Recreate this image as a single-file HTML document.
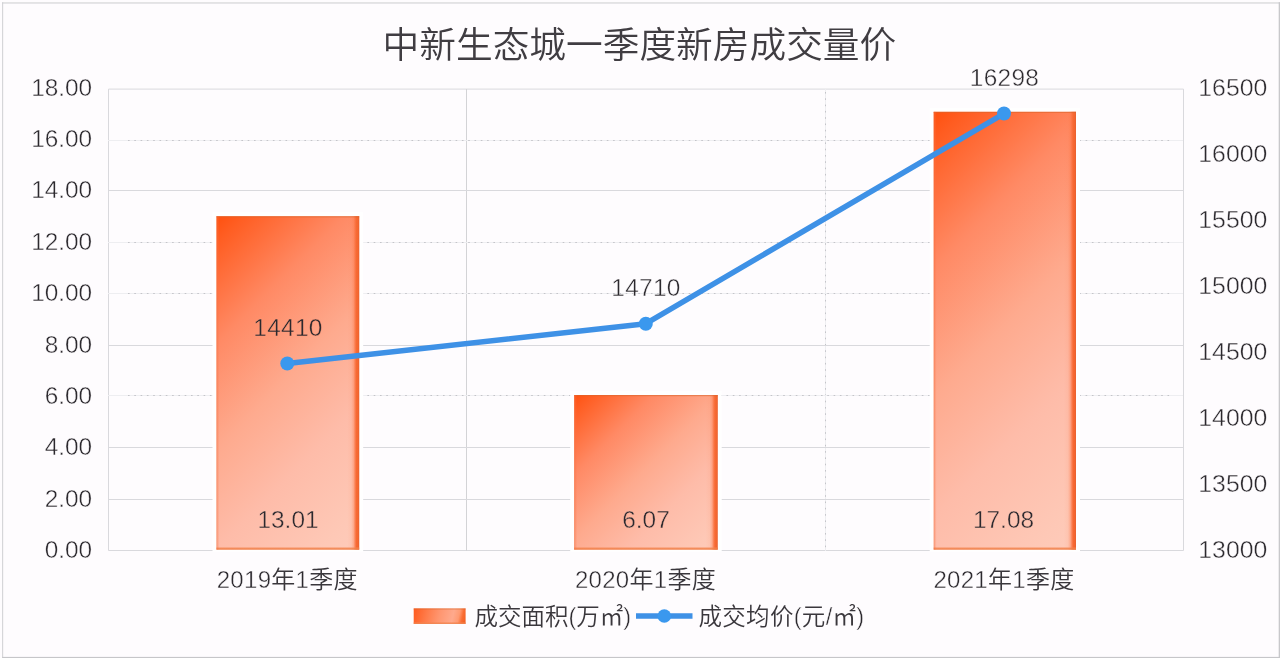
<!DOCTYPE html>
<html lang="zh-CN">
<head>
<meta charset="utf-8">
<title>中新生态城一季度新房成交量价</title>
<style>
html,body{margin:0;padding:0;background:#fefcfe;}
body{width:1280px;height:658px;overflow:hidden;position:relative;}
svg{position:absolute;left:0;top:0;display:block;}
text{font-family:"Liberation Sans","Noto Sans CJK SC",sans-serif;font-weight:300;fill:#2c292e;stroke:#fefcfe;stroke-width:0.42px;}
.c{stroke:none;font-weight:350;fill:#3a373c;}
.t{fill:#403d42;font-weight:350;stroke:none;}
</style>
</head>
<body>
<svg width="1280" height="658" viewBox="0 0 1280 658">
<defs>
<linearGradient id="g0" gradientUnits="userSpaceOnUse" x1="216.5" y1="216.2" x2="454.6" y2="454.2"><stop offset="0" stop-color="#ff500e"/><stop offset="0.05" stop-color="#ff5c20"/><stop offset="0.27" stop-color="#ff8a65"/><stop offset="0.49" stop-color="#feaa8e"/><stop offset="0.7" stop-color="#febca9"/><stop offset="0.92" stop-color="#fec8b6"/><stop offset="1" stop-color="#fecbba"/></linearGradient>
<linearGradient id="g1" gradientUnits="userSpaceOnUse" x1="574.2" y1="395.0" x2="723.2" y2="544.0"><stop offset="0" stop-color="#ff500e"/><stop offset="0.05" stop-color="#ff5c20"/><stop offset="0.27" stop-color="#ff8a65"/><stop offset="0.49" stop-color="#feaa8e"/><stop offset="0.7" stop-color="#febca9"/><stop offset="0.92" stop-color="#fec8b6"/><stop offset="1" stop-color="#fecbba"/></linearGradient>
<linearGradient id="g2" gradientUnits="userSpaceOnUse" x1="933.7" y1="111.8" x2="1223.8" y2="401.8"><stop offset="0" stop-color="#ff500e"/><stop offset="0.05" stop-color="#ff5c20"/><stop offset="0.27" stop-color="#ff8a65"/><stop offset="0.49" stop-color="#feaa8e"/><stop offset="0.7" stop-color="#febca9"/><stop offset="0.92" stop-color="#fec8b6"/><stop offset="1" stop-color="#fecbba"/></linearGradient>
<linearGradient id="er" x1="0" y1="0" x2="1" y2="0">
<stop offset="0" stop-color="#ff7a48" stop-opacity="0"/>
<stop offset="0.33" stop-color="#ff7a48" stop-opacity="0.08"/>
<stop offset="0.52" stop-color="#fd7644" stop-opacity="0.35"/>
<stop offset="0.66" stop-color="#fa6e3a" stop-opacity="0.8"/>
<stop offset="0.77" stop-color="#f76a34" stop-opacity="1"/>
<stop offset="0.92" stop-color="#f3652f"/>
<stop offset="1" stop-color="#e46030"/>
</linearGradient>
<linearGradient id="el" x1="0" y1="0" x2="1" y2="0">
<stop offset="0" stop-color="#ee6a38" stop-opacity="0.6"/>
<stop offset="0.4" stop-color="#f87040" stop-opacity="0.3"/>
<stop offset="1" stop-color="#ff7848" stop-opacity="0"/>
</linearGradient>
<linearGradient id="eb" x1="0" y1="0" x2="0" y2="1">
<stop offset="0" stop-color="#f58a58" stop-opacity="0"/>
<stop offset="0.6" stop-color="#f28048" stop-opacity="0.8"/>
<stop offset="1" stop-color="#ec7a42"/>
</linearGradient>
<linearGradient id="gl" gradientUnits="userSpaceOnUse" x1="413.7" y1="608.4" x2="465.6" y2="620">
<stop offset="0" stop-color="#ff5a1e"/>
<stop offset="0.25" stop-color="#ff7a48"/>
<stop offset="0.5" stop-color="#ff9670"/>
<stop offset="0.75" stop-color="#ffa98c"/>
<stop offset="0.86" stop-color="#ff9a72"/>
<stop offset="0.93" stop-color="#fa6c32"/>
<stop offset="1" stop-color="#f26024"/>
</linearGradient>
</defs>
<rect x="0" y="0" width="1280" height="658" fill="#fefcfe"/>
<!-- outer border -->
<rect x="2.2" y="2.2" width="1277.8" height="1.5" fill="#dcdcde"/>
<rect x="2.2" y="2.2" width="0.95" height="655.8" fill="#cdcdd0"/>
<rect x="1278.7" y="2.2" width="1.3" height="655.8" fill="#c8c8cb"/>
<rect x="2.2" y="656.9" width="1277.8" height="1.1" fill="#c6c6c9"/>
<!-- plot area -->
<g stroke="#d9d9dd" stroke-width="1" fill="none">
<path d="M108.5 89.1V550.5H1183.5V89.1Z"/>
<line x1="466.5" y1="89" x2="466.5" y2="551" stroke="#d3d3d6"/>
<line x1="825.5" y1="89" x2="825.5" y2="551" stroke="#eeeef1"/>
<line x1="825.5" y1="92" x2="825.5" y2="551" stroke="#c4c4c9" stroke-dasharray="1.6 4.7"/>
<line x1="108" y1="140.5" x2="1183" y2="140.5" stroke="#eeeef1"/>
<line x1="128" y1="140.5" x2="1170" y2="140.5" stroke="#c4c4c9" stroke-dasharray="1.6 4.7"/>
<line x1="108" y1="190.5" x2="1183" y2="190.5"/>
<line x1="108" y1="242.5" x2="1183" y2="242.5" stroke="#eeeef1"/>
<line x1="128" y1="242.5" x2="1170" y2="242.5" stroke="#c4c4c9" stroke-dasharray="1.6 4.7"/>
<line x1="108" y1="293.5" x2="1183" y2="293.5" stroke="#eeeef1"/>
<line x1="128" y1="293.5" x2="1170" y2="293.5" stroke="#c4c4c9" stroke-dasharray="1.6 4.7"/>
<line x1="108" y1="345.5" x2="1183" y2="345.5"/>
<line x1="108" y1="395.5" x2="1183" y2="395.5" stroke="#eeeef1"/>
<line x1="128" y1="395.5" x2="1170" y2="395.5" stroke="#c4c4c9" stroke-dasharray="1.6 4.7"/>
<line x1="108" y1="447.5" x2="1183" y2="447.5"/>
<line x1="108" y1="499.5" x2="1183" y2="499.5"/>
</g>
<!-- bars -->
<g>
<rect x="212.5" y="212.2" width="150.7" height="339.4" fill="#ffffff"/>
<rect x="216.5" y="216.2" width="142.7" height="333.4" fill="url(#g0)"/>
<rect x="347.2" y="216.2" width="12" height="333.4" fill="url(#er)"/>
<rect x="216.5" y="546.6" width="142.7" height="3" fill="url(#eb)"/>
<rect x="216.5" y="216.2" width="142.7" height="1.2" fill="#d8642c" fill-opacity="0.55"/>
<rect x="216.5" y="216.2" width="3" height="333.4" fill="url(#el)"/>
</g>
<g>
<rect x="570.2" y="391.0" width="151.5" height="160.6" fill="#ffffff"/>
<rect x="574.2" y="395.0" width="143.5" height="154.6" fill="url(#g1)"/>
<rect x="705.7" y="395.0" width="12" height="154.6" fill="url(#er)"/>
<rect x="574.2" y="546.6" width="143.5" height="3" fill="url(#eb)"/>
<rect x="574.2" y="395.0" width="143.5" height="1.2" fill="#d8642c" fill-opacity="0.55"/>
<rect x="574.2" y="395.0" width="3" height="154.6" fill="url(#el)"/>
</g>
<g>
<rect x="929.7" y="107.8" width="150.3" height="443.8" fill="#ffffff"/>
<rect x="933.7" y="111.8" width="142.3" height="437.8" fill="url(#g2)"/>
<rect x="1064.0" y="111.8" width="12" height="437.8" fill="url(#er)"/>
<rect x="933.7" y="546.6" width="142.3" height="3" fill="url(#eb)"/>
<rect x="933.7" y="111.8" width="142.3" height="1.2" fill="#d8642c" fill-opacity="0.55"/>
<rect x="933.7" y="111.8" width="3" height="437.8" fill="url(#el)"/>
</g>
<!-- line -->
<polyline points="287.3,363.5 645.8,323.7 1004,113.6" fill="none" stroke="#3e91e6" stroke-width="5.5" stroke-linejoin="round" stroke-linecap="round"/>
<circle cx="287.3" cy="363.5" r="7" fill="#3a98ee"/>
<circle cx="645.8" cy="323.7" r="7" fill="#3a98ee"/>
<circle cx="1004" cy="113.5" r="7" fill="#3a98ee"/>

<!-- title -->
<text class="t" x="639.4" y="58" font-size="36.7" text-anchor="middle">中新生态城一季度新房成交量价</text>

<!-- left axis -->
<g font-size="24.4" text-anchor="end">
<text x="92.2" y="95.7">18.00</text>
<text x="92.2" y="147.1">16.00</text>
<text x="92.2" y="198.4">14.00</text>
<text x="92.2" y="249.8">12.00</text>
<text x="92.2" y="301.2">10.00</text>
<text x="92.2" y="352.5">8.00</text>
<text x="92.2" y="403.9">6.00</text>
<text x="92.2" y="455.3">4.00</text>
<text x="92.2" y="506.7">2.00</text>
<text x="92.2" y="558.0">0.00</text>
</g>
<!-- right axis -->
<g font-size="24.8" text-anchor="start">
<text x="1198.3" y="95.7">16500</text>
<text x="1198.3" y="161.7">16000</text>
<text x="1198.3" y="227.8">15500</text>
<text x="1198.3" y="293.8">15000</text>
<text x="1198.3" y="359.9">14500</text>
<text x="1198.3" y="425.9">14000</text>
<text x="1198.3" y="491.9">13500</text>
<text x="1198.3" y="558.0">13000</text>
</g>
<!-- data labels -->
<g font-size="24.4" text-anchor="middle" letter-spacing="0.3">
<text x="288" y="335.5" style="stroke:#fe9b7c">14410</text>
<text x="646" y="295.7">14710</text>
<text x="1004.5" y="85.7">16298</text>
</g>
<g font-size="24.4" text-anchor="middle">
<text x="288" y="528" style="stroke:#fdc2b1">13.01</text>
<text x="646" y="528" style="stroke:#fdb9a7">6.07</text>
<text x="1003.5" y="528" style="stroke:#fec4b3">17.08</text>
</g>
<!-- category labels -->
<g font-size="24" text-anchor="middle" letter-spacing="0.3">
<text x="287.3" y="588">2019<tspan class="c">年</tspan>1<tspan class="c">季度</tspan></text>
<text x="645.5" y="588">2020<tspan class="c">年</tspan>1<tspan class="c">季度</tspan></text>
<text x="1004" y="588">2021<tspan class="c">年</tspan>1<tspan class="c">季度</tspan></text>
</g>
<!-- legend -->
<rect x="413.7" y="608.4" width="51.9" height="15.4" fill="url(#gl)"/>
<rect x="413.7" y="608.4" width="51.9" height="1.2" fill="#d8682e" fill-opacity="0.5"/>
<rect x="413.7" y="621.8" width="51.9" height="2" fill="url(#eb)"/>
<text x="474.5" y="624.5" font-size="23.5"><tspan class="c">成交面积</tspan>(<tspan class="c">万㎡</tspan>)</text>
<line x1="636" y1="616" x2="692.5" y2="616" stroke="#3e91e6" stroke-width="5.5"/>
<circle cx="664.3" cy="616" r="6.8" fill="#3a98ee"/>
<text x="698.5" y="624.5" font-size="23.5" letter-spacing="0.3"><tspan class="c">成交均价</tspan>(<tspan class="c">元</tspan>/<tspan class="c">㎡</tspan>)</text>
</svg>
</body>
</html>
